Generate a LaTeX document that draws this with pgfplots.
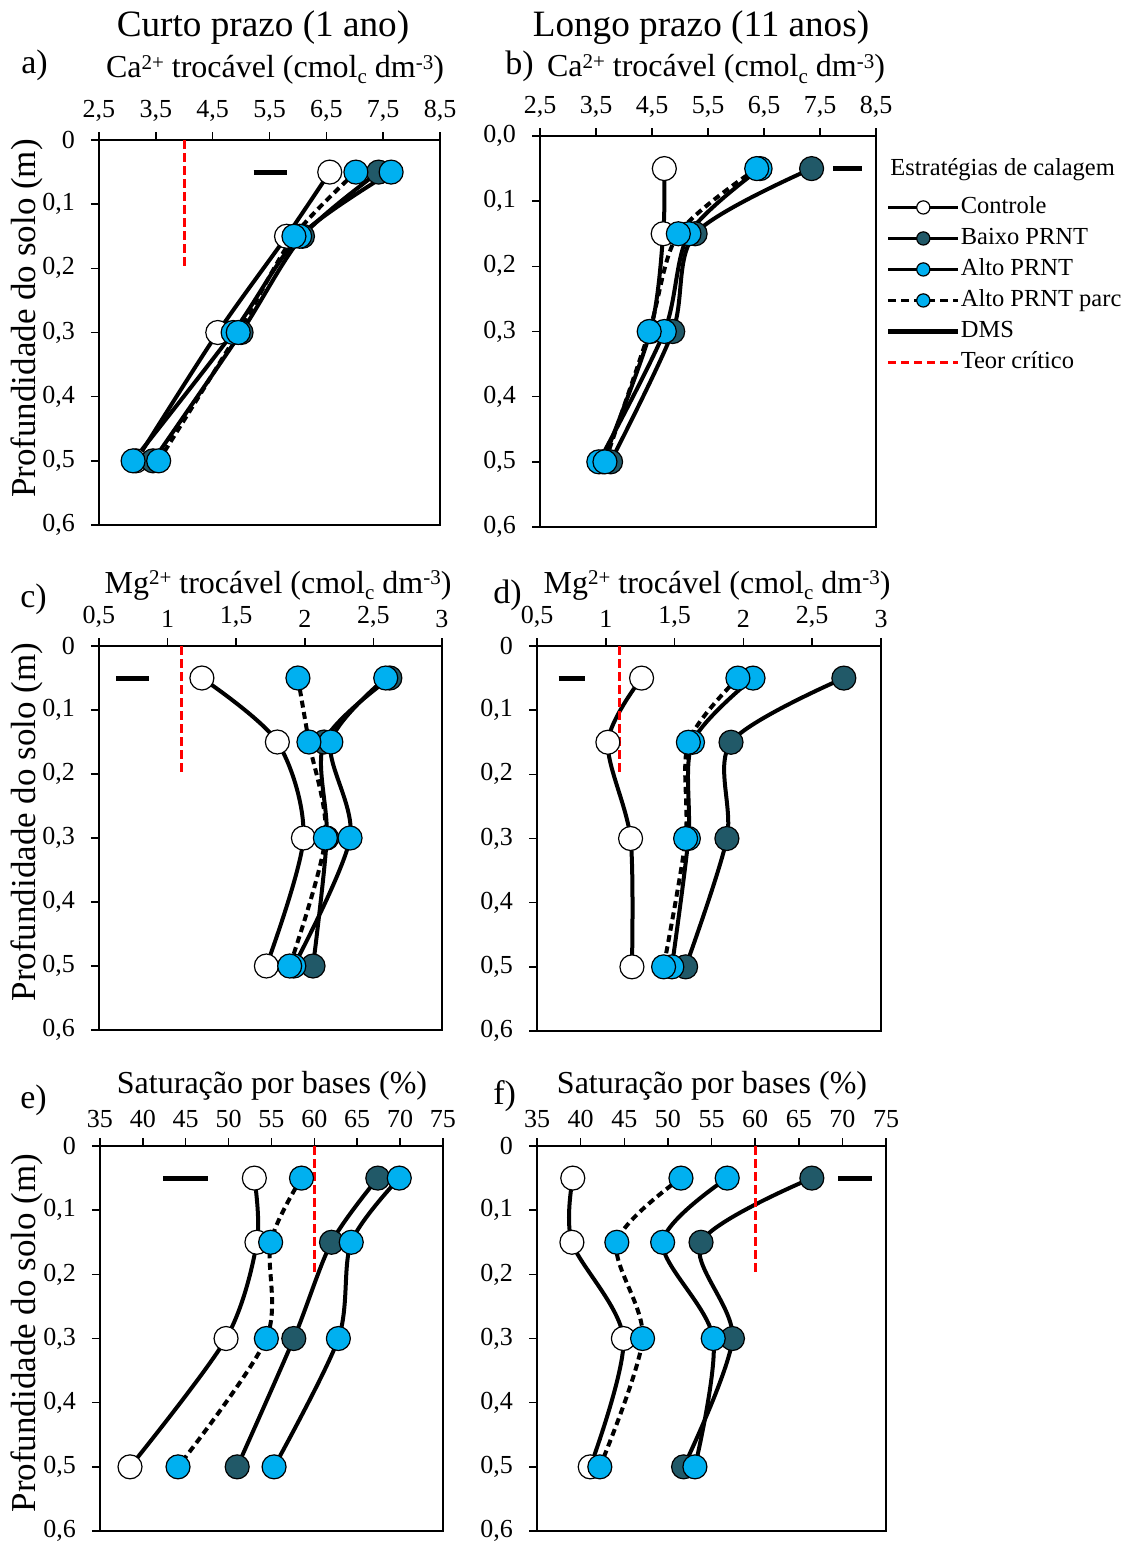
\documentclass[border=0pt]{standalone}
\usepackage{fontspec}
\setmainfont{Liberation Serif}
\usepackage{pgfplots}
\usepackage{pgfplotstable}
\pgfplotsset{compat=1.18}
\definecolor{darkteal}{HTML}{215968}
\definecolor{lblue}{HTML}{00B0F0}

% depth, Controle, Baixo PRNT, Alto PRNT, Alto PRNT parc
\pgfplotstableread{
depth ctrl baixo alto parc
0.05 6.56 7.42 7.64 7.02
0.15 5.80 6.08 6.03 5.93
0.30 4.59 5.00 4.86 4.95
0.50 3.15 3.45 3.10 3.55
}\dataA
\pgfplotstableread{
depth ctrl baixo alto parc
0.05 4.72 7.35 6.43 6.37
0.15 4.70 5.27 5.16 4.97
0.30 4.47 4.87 4.72 4.45
0.50 3.62 3.76 3.55 3.66
}\dataB
\pgfplotstableread{
depth ctrl baixo alto parc
0.05 1.25 2.62 2.59 1.95
0.15 1.80 2.14 2.19 2.03
0.30 1.99 2.16 2.33 2.15
0.50 1.72 2.06 1.92 1.89
}\dataC
\pgfplotstableread{
depth ctrl baixo alto parc
0.05 1.26 2.73 2.07 1.96
0.15 1.015 1.91 1.63 1.60
0.30 1.18 1.88 1.60 1.58
0.50 1.19 1.58 1.48 1.42
}\dataD
\pgfplotstableread{
depth ctrl baixo alto parc
0.05 53.0 67.4 69.9 58.5
0.15 53.3 62.0 64.3 54.9
0.30 49.7 57.6 62.8 54.4
0.50 38.5 51.0 55.3 44.1
}\dataE
\pgfplotstableread{
depth ctrl baixo alto parc
0.05 39.1 66.5 56.8 51.5
0.15 39.0 53.8 49.4 44.15
0.30 44.9 57.4 55.2 47.1
0.50 41.1 51.8 53.1 42.2
}\dataF

\pgfplotsset{
  panel/.style={
    scale only axis, y dir=reverse, ymin=0, ymax=0.6,
    ytick={0,0.1,0.2,0.3,0.4,0.5,0.6},
    xtick pos=right, xticklabel pos=right, ytick pos=left, yticklabel pos=left,
    tick align=outside, major tick length=4pt,
    tick style={black, line width=0.75pt},
    axis line style={black, line width=1pt},
    tick label style={font=\fontsize{13}{13}\selectfont},
    xticklabel style={yshift=1.5pt},
    yticklabel style={xshift=-4.5pt},
    /pgf/number format/assume math mode=true,
    /pgf/number format/use comma,
    /pgf/number format/fixed,
    /pgf/number format/precision=1,
  },
  ser/.style={smooth, tension=0.5, line width=2pt, black, mark=*, mark size=6pt,
    mark options={solid, draw=black, line width=0.6pt, fill=#1}},
  dms/.style={black, line width=2.5pt, no marks},
  teor/.style={red, line width=1.5pt, dash pattern=on 4.5pt off 2pt, no marks},
  pd/.style={dash pattern=on 3.5pt off 2.25pt},
}
\newcommand{\fourseries}[1]{%
  \addplot[ser=white, forget plot] table[x=ctrl, y=depth] {#1};
  \addplot[ser=darkteal, forget plot] table[x=baixo, y=depth] {#1};
  \addplot[ser=lblue, forget plot] table[x=alto, y=depth] {#1};
  \addplot[ser=lblue, pd, forget plot] table[x=parc, y=depth] {#1};
}
\newcommand{\lab}{\fontsize{16}{16}\selectfont}
\newcommand{\sups}[1]{\raisebox{4.2pt}{\fontsize{10.5}{10.5}\selectfont #1}}
\newcommand{\subs}[1]{\raisebox{-3pt}{\fontsize{10.5}{10.5}\selectfont #1}}
\newcommand{\ylab}{\fontsize{17.5}{17.5}\selectfont}

\begin{document}
\begin{tikzpicture}
\useasboundingbox (0,0) rectangle (567.5pt,-770.5pt);

% titles
\node[anchor=base, font=\fontsize{18.6}{18.6}\selectfont] at (131.5pt,-18.5pt) {Curto prazo (1 ano)};
\node[anchor=base, font=\fontsize{18.6}{18.6}\selectfont] at (350.5pt,-18.5pt) {Longo prazo (11 anos)};
% panel letters
\node[anchor=base west, font=\fontsize{17}{17}\selectfont, inner sep=0pt] at (10.5pt,-37pt) {a)};
\node[anchor=base west, font=\fontsize{17}{17}\selectfont, inner sep=0pt] at (252.5pt,-37.5pt) {b)};
\node[anchor=base west, font=\fontsize{17}{17}\selectfont, inner sep=0pt] at (10pt,-303.5pt) {c)};
\node[anchor=base west, font=\fontsize{17}{17}\selectfont, inner sep=0pt] at (246.5pt,-301.5pt) {d)};
\node[anchor=base west, font=\fontsize{17}{17}\selectfont, inner sep=0pt] at (10pt,-554pt) {e)};
\node[anchor=base west, font=\fontsize{17}{17}\selectfont, inner sep=0pt] at (246.5pt,-552pt) {f)};
% x labels
\node[anchor=base, font=\lab, inner sep=0pt] at (137.5pt,-39pt) {Ca\sups{2+} trocável (cmol\subs{c} dm\sups{-3})};
\node[anchor=base, font=\lab, inner sep=0pt] at (358pt,-38.5pt) {Ca\sups{2+} trocável (cmol\subs{c} dm\sups{-3})};
\node[anchor=base, font=\lab, inner sep=0pt] at (139pt,-296.5pt) {Mg\sups{2+} trocável (cmol\subs{c} dm\sups{-3})};
\node[anchor=base, font=\lab, inner sep=0pt] at (358.5pt,-296.5pt) {Mg\sups{2+} trocável (cmol\subs{c} dm\sups{-3})};
\node[anchor=base, font=\lab, inner sep=0pt] at (136pt,-546.5pt) {Saturação por bases (\%)};
\node[anchor=base, font=\lab, inner sep=0pt] at (356pt,-546.5pt) {Saturação por bases (\%)};
% y labels
\node[anchor=base, rotate=90, font=\ylab, inner sep=0pt] at (17.5pt,-159.25pt) {Profundidade do solo (m)};
\node[anchor=base, rotate=90, font=\ylab, inner sep=0pt] at (17.5pt,-411pt) {Profundidade do solo (m)};
\node[anchor=base, rotate=90, font=\ylab, inner sep=0pt] at (17.5pt,-666.5pt) {Profundidade do solo (m)};
% legend title
\node[anchor=base west, font=\fontsize{12.25}{12.25}\selectfont, inner sep=0pt] at (445pt,-87.5pt) {Estratégias de calagem};

% ---------- a ----------
\begin{axis}[panel, at={(49.5pt,-70pt)}, anchor=north west, width=170.5pt, height=192.5pt,
  xmin=2.5, xmax=8.5, xtick={2.5,3.5,4.5,5.5,6.5,7.5,8.5}]
  \addplot[dms, forget plot] coordinates {(5.22,0.05) (5.80,0.05)};
  \fourseries{\dataA}
  \addplot[teor, forget plot] coordinates {(4.0,0) (4.0,0.2)};
\end{axis}

% ---------- b ----------
\begin{axis}[panel, at={(270pt,-68pt)}, anchor=north west, width=168pt, height=195.5pt,
  xmin=2.5, xmax=8.5, xtick={2.5,3.5,4.5,5.5,6.5,7.5,8.5},
  /pgf/number format/fixed zerofill,
  legend style={at={(1.028,0.849)}, anchor=north west, draw=none, fill=none,
    inner sep=0pt, font=\fontsize{12.25}{12.25}\selectfont, row sep=3.5pt,
    nodes={inner sep=0pt, text height=9pt, text depth=3pt},
    /tikz/every even column/.append style={column sep=3.5pt}},
  legend cell align=left,
  legend image code/.code={\draw[mark repeat=2,mark phase=2,#1] plot coordinates {(0pt,0pt) (17.5pt,0pt) (35pt,0pt)};}]
  \addplot[dms, forget plot] coordinates {(7.74,0.05) (8.25,0.05)};
  \fourseries{\dataB}
  \addlegendimage{black, line width=1.6pt, mark=*, mark size=3.3pt, mark options={solid, fill=white, line width=0.6pt}}
  \addlegendentry{Controle}
  \addlegendimage{black, line width=1.6pt, mark=*, mark size=3.3pt, mark options={solid, fill=darkteal, line width=0.6pt}}
  \addlegendentry{Baixo PRNT}
  \addlegendimage{black, line width=1.6pt, mark=*, mark size=3.3pt, mark options={solid, fill=lblue, line width=0.6pt}}
  \addlegendentry{Alto PRNT}
  \addlegendimage{black, line width=1.6pt, dash pattern=on 4pt off 2.5pt, mark=*, mark size=3.3pt, mark options={solid, fill=lblue, line width=0.6pt}}
  \addlegendentry{Alto PRNT parc}
  \addlegendimage{black, line width=2.5pt}
  \addlegendentry{DMS}
  \addlegendimage{red, line width=1.5pt, dash pattern=on 4pt off 2.5pt}
  \addlegendentry{Teor crítico}
\end{axis}

% ---------- c ----------
\begin{axis}[panel, at={(49.5pt,-323pt)}, anchor=north west, width=171.5pt, height=192pt,
  xmin=0.5, xmax=3, xtick={0.5,1,1.5,2,2.5,3}]
  \addplot[dms, forget plot] coordinates {(0.624,0.05) (0.867,0.05)};
  \fourseries{\dataC}
  \addplot[teor, forget plot] coordinates {(1.1,0) (1.1,0.2)};
\end{axis}

% ---------- d ----------
\begin{axis}[panel, at={(268.5pt,-323pt)}, anchor=north west, width=172pt, height=192.5pt,
  xmin=0.5, xmax=3, xtick={0.5,1,1.5,2,2.5,3}]
  \addplot[dms, forget plot] coordinates {(0.657,0.05) (0.846,0.05)};
  \fourseries{\dataD}
  \addplot[teor, forget plot] coordinates {(1.1,0) (1.1,0.2)};
\end{axis}

% ---------- e ----------
\begin{axis}[panel, at={(50pt,-573pt)}, anchor=north west, width=171.5pt, height=192.5pt,
  xmin=35, xmax=75, xtick={35,40,45,50,55,60,65,70,75}]
  \addplot[dms, forget plot] coordinates {(42.4,0.05) (47.6,0.05)};
  \fourseries{\dataE}
  \addplot[teor, forget plot] coordinates {(60,0) (60,0.2)};
\end{axis}

% ---------- f ----------
\begin{axis}[panel, at={(268.5pt,-573pt)}, anchor=north west, width=174.5pt, height=192.5pt,
  xmin=35, xmax=75, xtick={35,40,45,50,55,60,65,70,75}]
  \addplot[dms, forget plot] coordinates {(69.5,0.05) (73.4,0.05)};
  \fourseries{\dataF}
  \addplot[teor, forget plot] coordinates {(60,0) (60,0.2)};
\end{axis}
\end{tikzpicture}
\end{document}
